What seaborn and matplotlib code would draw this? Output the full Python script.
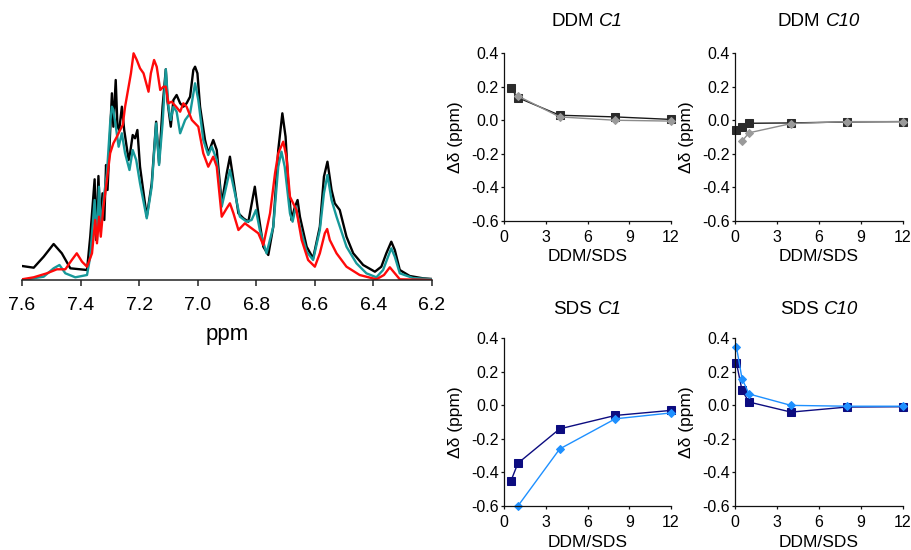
import matplotlib
matplotlib.use("Agg")
import matplotlib.pyplot as plt
import seaborn as sns
from matplotlib.offsetbox import TextArea, HPacker, AnnotationBbox

sns.set_theme(style="ticks")
plt.rcParams["font.family"] = ["Liberation Sans", "DejaVu Sans"]
plt.rcParams.update({
    "text.color": "black",
    "axes.labelcolor": "black",
    "xtick.color": "black",
    "ytick.color": "black",
    "axes.edgecolor": "black",
})

# ---------------- 1H NMR spectra (ppm, intensity in a.u.) ----------------
black_ppm = [7.600, 7.560, 7.526, 7.492, 7.464, 7.435, 7.378, 7.367, 7.352, 7.347,
             7.339, 7.333, 7.325, 7.319, 7.313, 7.308, 7.293, 7.288, 7.280, 7.274,
             7.268, 7.259, 7.251, 7.236, 7.231, 7.222, 7.214, 7.206, 7.197, 7.174,
             7.157, 7.142, 7.132, 7.120, 7.109, 7.103, 7.092, 7.083, 7.072, 7.060,
             7.049, 7.038, 7.026, 7.015, 7.009, 7.001, 6.992, 6.975, 6.964, 6.947,
             6.935, 6.918, 6.901, 6.890, 6.878, 6.861, 6.844, 6.827, 6.805, 6.793,
             6.776, 6.759, 6.742, 6.725, 6.711, 6.700, 6.691, 6.680, 6.668, 6.659,
             6.651, 6.628, 6.606, 6.583, 6.569, 6.557, 6.543, 6.532, 6.515, 6.492,
             6.469, 6.435, 6.395, 6.373, 6.356, 6.339, 6.327, 6.310, 6.276, 6.231,
             6.200]
black_int = [14.0, 12.3, 23.3, 36.0, 26.7, 11.7, 10.0, 43.3, 100.7, 40.0,
             104.0, 53.3, 86.7, 60.0, 115.0, 90.0, 186.7, 153.3, 200.0, 153.3,
             150.0, 173.3, 150.0, 120.0, 126.7, 145.0, 141.7, 150.0, 113.3, 63.3,
             96.7, 158.3, 116.7, 173.3, 210.7, 178.3, 153.3, 180.0, 185.0, 176.7,
             173.3, 176.7, 183.3, 210.0, 213.3, 206.7, 173.3, 140.0, 126.7, 140.0,
             130.0, 76.7, 106.7, 123.3, 100.0, 66.7, 61.7, 58.3, 93.3, 66.7,
             33.3, 25.0, 53.3, 130.0, 166.7, 143.3, 96.7, 60.0, 73.3, 80.0,
             63.3, 33.3, 21.7, 53.3, 103.3, 118.3, 90.0, 76.7, 70.0, 43.3,
             26.7, 15.0, 8.3, 13.3, 26.7, 38.3, 30.0, 10.0, 4.0, 1.7,
             1.0]

teal_ppm = [7.600, 7.526, 7.492, 7.472, 7.452, 7.418, 7.378, 7.367, 7.352, 7.344,
            7.337, 7.331, 7.319, 7.310, 7.299, 7.293, 7.288, 7.278, 7.270, 7.259,
            7.248, 7.233, 7.222, 7.210, 7.197, 7.174, 7.157, 7.142, 7.132, 7.120,
            7.109, 7.100, 7.092, 7.083, 7.072, 7.060, 7.043, 7.026, 7.009, 6.998,
            6.981, 6.964, 6.952, 6.935, 6.918, 6.890, 6.873, 6.856, 6.833, 6.816,
            6.801, 6.788, 6.765, 6.742, 6.725, 6.714, 6.703, 6.685, 6.676, 6.665,
            6.651, 6.628, 6.606, 6.583, 6.569, 6.557, 6.543, 6.526, 6.492, 6.458,
            6.424, 6.390, 6.367, 6.350, 6.339, 6.327, 6.310, 6.265, 6.200]
teal_int = [0.0, 3.3, 11.7, 15.0, 6.7, 2.7, 5.0, 23.3, 80.0, 40.0,
            93.3, 53.3, 86.7, 106.7, 156.7, 173.3, 170.0, 150.0, 133.3, 146.7,
            126.7, 110.0, 130.0, 120.0, 96.7, 61.7, 93.3, 156.7, 115.0, 156.7,
            210.7, 173.3, 160.0, 173.3, 168.3, 146.7, 160.0, 166.7, 196.7, 180.0,
            140.0, 125.0, 133.3, 120.0, 73.3, 110.0, 86.7, 63.3, 58.3, 60.0,
            70.0, 50.0, 26.7, 53.3, 113.3, 128.3, 113.3, 66.7, 58.3, 73.3,
            53.3, 28.3, 20.0, 50.0, 86.7, 105.0, 80.0, 63.3, 33.3, 16.7,
            6.7, 2.7, 10.0, 23.3, 31.7, 23.3, 6.7, 2.0, 0.7]

red_ppm = [7.600, 7.560, 7.515, 7.481, 7.452, 7.430, 7.413, 7.395, 7.378, 7.361,
           7.350, 7.344, 7.337, 7.331, 7.322, 7.310, 7.299, 7.288, 7.276, 7.265,
           7.256, 7.248, 7.236, 7.228, 7.219, 7.208, 7.197, 7.185, 7.168, 7.160,
           7.149, 7.140, 7.128, 7.117, 7.109, 7.100, 7.089, 7.074, 7.060, 7.049,
           7.038, 7.020, 6.998, 6.981, 6.964, 6.947, 6.935, 6.918, 6.901, 6.890,
           6.878, 6.861, 6.839, 6.816, 6.793, 6.776, 6.753, 6.736, 6.725, 6.708,
           6.697, 6.685, 6.674, 6.663, 6.645, 6.623, 6.600, 6.583, 6.566, 6.558,
           6.549, 6.526, 6.492, 6.447, 6.390, 6.364, 6.344, 6.327, 6.310, 6.200]
red_int = [0.7, 2.7, 6.7, 10.7, 10.7, 20.0, 26.7, 18.3, 13.3, 26.7,
           60.0, 36.7, 63.3, 43.3, 73.3, 100.0, 126.7, 136.7, 143.3, 150.0,
           155.0, 173.3, 193.3, 206.7, 226.7, 220.0, 211.7, 206.7, 188.3, 206.7,
           220.0, 213.3, 190.0, 193.3, 193.3, 176.7, 178.3, 173.3, 168.3, 176.7,
           173.3, 160.0, 153.3, 126.7, 113.3, 123.3, 113.3, 63.3, 71.7, 76.7,
           66.7, 50.0, 56.7, 51.7, 46.7, 35.0, 66.7, 106.7, 126.7, 138.3,
           123.3, 83.3, 76.7, 70.0, 40.0, 20.0, 13.3, 26.7, 46.7, 51.0,
           40.0, 26.7, 13.3, 5.0, 0.7, 5.0, 12.7, 6.7, 0.7, 0.0]

ppm_ticks = [7.6, 7.4, 7.2, 7.0, 6.8, 6.6, 6.4, 6.2]
ppm_labels = ["7.6", "7.4", "7.2", "7.0", "6.8", "6.6", "6.4", "6.2"]

# ---------------- chemical shift changes vs DDM/SDS ratio ----------------
ddm_c1_sq_x = [0.5, 1, 4, 8, 12]
ddm_c1_sq_y = [0.19, 0.135, 0.03, 0.02, 0.005]
ddm_c1_di_x = [1, 4, 8, 12]
ddm_c1_di_y = [0.145, 0.02, 0.0, -0.005]

ddm_c10_sq_x = [0.1, 0.5, 1, 4, 8, 12]
ddm_c10_sq_y = [-0.058, -0.042, -0.018, -0.016, -0.01, -0.008]
ddm_c10_di_x = [0.5, 1, 4, 8, 12]
ddm_c10_di_y = [-0.125, -0.075, -0.02, -0.008, -0.008]

sds_c1_sq_x = [0.5, 1, 4, 8, 12]
sds_c1_sq_y = [-0.45, -0.345, -0.14, -0.06, -0.03]
sds_c1_di_x = [1, 4, 8, 12]
sds_c1_di_y = [-0.6, -0.26, -0.08, -0.045]

sds_c10_sq_x = [0.1, 0.5, 1, 4, 8, 12]
sds_c10_sq_y = [0.255, 0.09, 0.02, -0.04, -0.01, -0.008]
sds_c10_di_x = [0.1, 0.5, 1, 4, 8, 12]
sds_c10_di_y = [0.35, 0.16, 0.068, 0.0, -0.005, -0.005]

ratio_ticks = [0, 3, 6, 9, 12]
ratio_labels = ["0", "3", "6", "9", "12"]
shift_ticks = [-0.6, -0.4, -0.2, 0.0, 0.2, 0.4]
shift_labels = ["-0.6", "-0.4", "-0.2", "0.0", "0.2", "0.4"]

W, H = 911, 550
fig = plt.figure(figsize=(W / 100, H / 100), dpi=100)


def px_axes(left, top, right, bottom):
    return fig.add_axes([left / W, 1 - bottom / H, (right - left) / W, (bottom - top) / H])


# ---------------- spectrum panel ----------------
ax = px_axes(22, 40, 432, 280)
for xs, ys, col in [(black_ppm, black_int, "#000000"),
                    (teal_ppm, teal_int, "#17999a"),
                    (red_ppm, red_int, "#ff0a0a")]:
    sns.lineplot(x=xs, y=ys, ax=ax, color=col, linewidth=1.7,
                 estimator=None, sort=False)
ax.set_xlim(7.6, 6.2)
ax.set_ylim(0, 240)
ax.set_xticks(ppm_ticks)
ax.set_xticklabels(ppm_labels, fontsize=14)
ax.set_yticks([])
for s in ["left", "right", "top"]:
    ax.spines[s].set_visible(False)
ax.spines["bottom"].set_linewidth(1.1)
ax.spines["bottom"].set_color("#222222")
ax.tick_params(axis="x", direction="out", length=4.5, width=1.1,
               color="#222222", pad=7.5)
ax.set_xlabel("ppm", fontsize=16)
ax.xaxis.set_label_coords(0.5, -0.185)


# ---------------- shift panels ----------------
def shift_panel(box, head, tail, title_y, sq, di, sq_col, di_col,
                sq_line, di_line):
    a = px_axes(*box)
    sns.lineplot(x=sq[0], y=sq[1], ax=a, color=sq_line, linewidth=1.0,
                 marker="s", markersize=5.2, markerfacecolor=sq_col,
                 markeredgecolor=sq_col, estimator=None, sort=False,
                 clip_on=False)
    sns.lineplot(x=di[0], y=di[1], ax=a, color=di_line, linewidth=1.0,
                 marker="D", markersize=4.0, markerfacecolor=di_col,
                 markeredgecolor=di_col, estimator=None, sort=False,
                 clip_on=False)
    a.set_xlim(0, 12)
    a.set_ylim(-0.6, 0.4)
    a.set_xticks(ratio_ticks)
    a.set_xticklabels(ratio_labels, fontsize=11.5)
    a.set_yticks(shift_ticks)
    a.set_yticklabels(shift_labels, fontsize=11.5)
    for s in ["right", "top"]:
        a.spines[s].set_visible(False)
    for s in ["left", "bottom"]:
        a.spines[s].set_linewidth(0.9)
        a.spines[s].set_color("#111111")
    a.tick_params(axis="both", direction="out", length=2.4, width=0.9,
                  color="#111111")
    a.tick_params(axis="x", pad=4.0)
    a.tick_params(axis="y", pad=1.5)
    a.set_xlabel("DDM/SDS", fontsize=12.5)
    a.set_ylabel("\u0394\u03b4 (ppm)", fontsize=12.5)
    a.xaxis.set_label_coords(0.5, -0.17)
    a.yaxis.set_label_coords(-0.245, 0.5)

    pack = HPacker(children=[TextArea(head, textprops=dict(fontsize=13.5)),
                             TextArea(tail, textprops=dict(fontsize=13.5,
                                                           style="italic"))],
                   align="baseline", pad=0, sep=3.8)
    cx = (box[0] + box[2]) / 2 / W
    ab = AnnotationBbox(pack, (cx, 1 - title_y / H), xycoords="figure fraction",
                        frameon=False, box_alignment=(0.5, 0.5))
    fig.add_artist(ab)
    return a


dark, grey = "#2b2b2b", "#9a9a9a"
navy, blue = "#0c0c80", "#1e90ff"

shift_panel((504, 53.3, 671, 220.7), "DDM", "C1", 21.7,
            (ddm_c1_sq_x, ddm_c1_sq_y), (ddm_c1_di_x, ddm_c1_di_y),
            dark, grey, "#1a1a1a", "#8c8c8c")
shift_panel((735, 53.3, 903, 220.7), "DDM", "C10", 21.7,
            (ddm_c10_sq_x, ddm_c10_sq_y), (ddm_c10_di_x, ddm_c10_di_y),
            dark, grey, "#1a1a1a", "#8c8c8c")
shift_panel((504, 338.3, 671, 506), "SDS", "C1", 310,
            (sds_c1_sq_x, sds_c1_sq_y), (sds_c1_di_x, sds_c1_di_y),
            navy, blue, navy, blue)
shift_panel((735, 338.3, 903, 506), "SDS", "C10", 310,
            (sds_c10_sq_x, sds_c10_sq_y), (sds_c10_di_x, sds_c10_di_y),
            navy, blue, navy, blue)

fig.savefig("out.png", dpi=100)
